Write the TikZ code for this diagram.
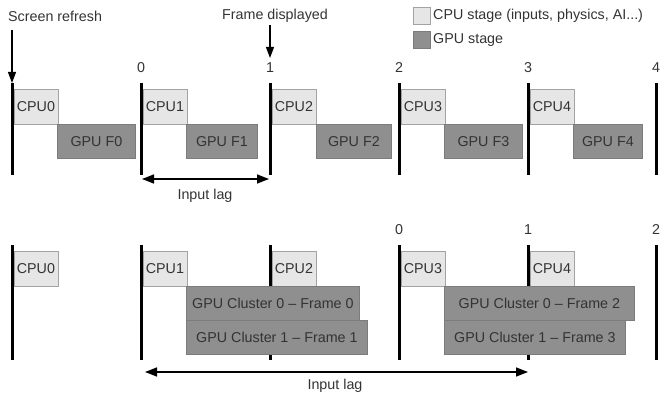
\documentclass[tikz,border=0pt]{standalone}
\usepackage{fontspec}
\setmainfont{Liberation Sans}
\usetikzlibrary{arrows.meta}
\definecolor{cpuf}{HTML}{E6E6E6}
\definecolor{cpud}{HTML}{A3A3A3}
\definecolor{gpuf}{HTML}{8F8F8F}
\definecolor{gpud}{HTML}{7C7C7C}
\definecolor{txt}{HTML}{333333}
\begin{document}
\begin{tikzpicture}[x=1pt,y=-1pt,
  lbl/.style={font=\fontsize{14.3}{17}\selectfont, text=txt, inner sep=0pt},
  cpubox/.style={lbl, draw=cpud, fill=cpuf, line width=0.8pt, minimum width=44pt, minimum height=35pt, anchor=north west},
  gpubox/.style={lbl, draw=gpud, fill=gpuf, line width=0.8pt, minimum height=34pt, anchor=north west},
  bar/.style={line width=3pt, black},
  arr/.style={-{Triangle[length=12pt,width=9pt]}, line width=1.5pt, black},
  varr/.style={-{Triangle[length=11pt,width=8pt]}, line width=1.1pt, black}]
\useasboundingbox (0,0) rectangle (662,396);
% legend
\node[draw=cpud, fill=cpuf, line width=0.8pt, minimum width=17pt, minimum height=17pt, inner sep=0pt, anchor=north west] (lc) at (413,7) {};
\node[draw=gpud, fill=gpuf, line width=0.8pt, minimum width=17pt, minimum height=17pt, inner sep=0pt, anchor=north west] (lg) at (413,31) {};
\node[lbl, anchor=west] (lct) at (433,15.5) {CPU stage (inputs, physics, AI...)};
\node[lbl, anchor=west] (lgt) at (433,40) {GPU stage};
% top annotations
\node[lbl, anchor=west] (sr) at (8,16) {Screen refresh};
\node[lbl] (fd) at (275,16) {Frame displayed};
\coordinate (srs) at (12,30);
\coordinate (srt) at (12,83);
\coordinate (fds) at (270,25);
\coordinate (fdt) at (270,58);
\draw[varr] (srs) -- (srt);
\draw[varr] (fds) -- (fdt);
% top numbers
\foreach \n/\x in {0/141,1/270,2/399,3/528,4/656}
  \node[lbl] (tn\n) at (\x,68) {\n};
% top bars
\foreach \i/\x in {0/12,1/141,2/270,3/399,4/528,5/656} {
  \coordinate (tb\i a) at (\x,83);
  \coordinate (tb\i b) at (\x,175);
  \draw[bar] (tb\i a) -- (tb\i b);
}
% top CPU
\foreach \i/\x in {0/13.5,1/142.5,2/271.5,3/400.5,4/529.5}
  \node[cpubox] (tc\i) at (\x,89) {CPU\i};
% top GPU
\node[gpubox, minimum width=78pt] (tg0) at (57,124) {GPU F0};
\node[gpubox, minimum width=71pt] (tg1) at (186,124) {GPU F1};
\node[gpubox, minimum width=75pt] (tg2) at (316,124) {GPU F2};
\node[gpubox, minimum width=78pt] (tg3) at (444,124) {GPU F3};
\node[gpubox, minimum width=69pt] (tg4) at (573,124) {GPU F4};
% top input lag
\coordinate (tl1) at (142,179);
\coordinate (tl2) at (269,179);
\draw[arr, {Triangle[length=12pt,width=9pt]}-{Triangle[length=12pt,width=9pt]}] (tl1) -- (tl2);
\node[lbl] (til) at (205,196) {Input lag};
% bottom numbers
\foreach \n/\x in {0/399,1/528,2/656}
  \node[lbl] (bn\n) at (\x,230) {\n};
% bottom bars
\foreach \i/\x in {0/12,1/141,2/270,3/399,4/528,5/656} {
  \coordinate (bb\i a) at (\x,245);
  \coordinate (bb\i b) at (\x,360);
  \draw[bar] (bb\i a) -- (bb\i b);
}
% bottom CPU
\foreach \i/\x in {0/13.5,1/142.5,2/271.5,3/400.5,4/529.5}
  \node[cpubox] (bc\i) at (\x,251) {CPU\i};
% bottom GPU clusters
\node[gpubox, minimum width=173pt] (ga0) at (186,286) {GPU Cluster 0 -- Frame 0};
\node[gpubox, minimum width=181pt] (ga1) at (186,320) {GPU Cluster 1 -- Frame 1};
\node[gpubox, minimum width=190pt] (gb0) at (444,286) {GPU Cluster 0 -- Frame 2};
\node[gpubox, minimum width=181pt] (gb1) at (444,320) {GPU Cluster 1 -- Frame 3};
% bottom input lag
\coordinate (bl1) at (145,372);
\coordinate (bl2) at (528,372);
\draw[arr, {Triangle[length=12pt,width=9pt]}-{Triangle[length=12pt,width=9pt]}] (bl1) -- (bl2);
\node[lbl] (bil) at (335,386) {Input lag};
\end{tikzpicture}
\end{document}
